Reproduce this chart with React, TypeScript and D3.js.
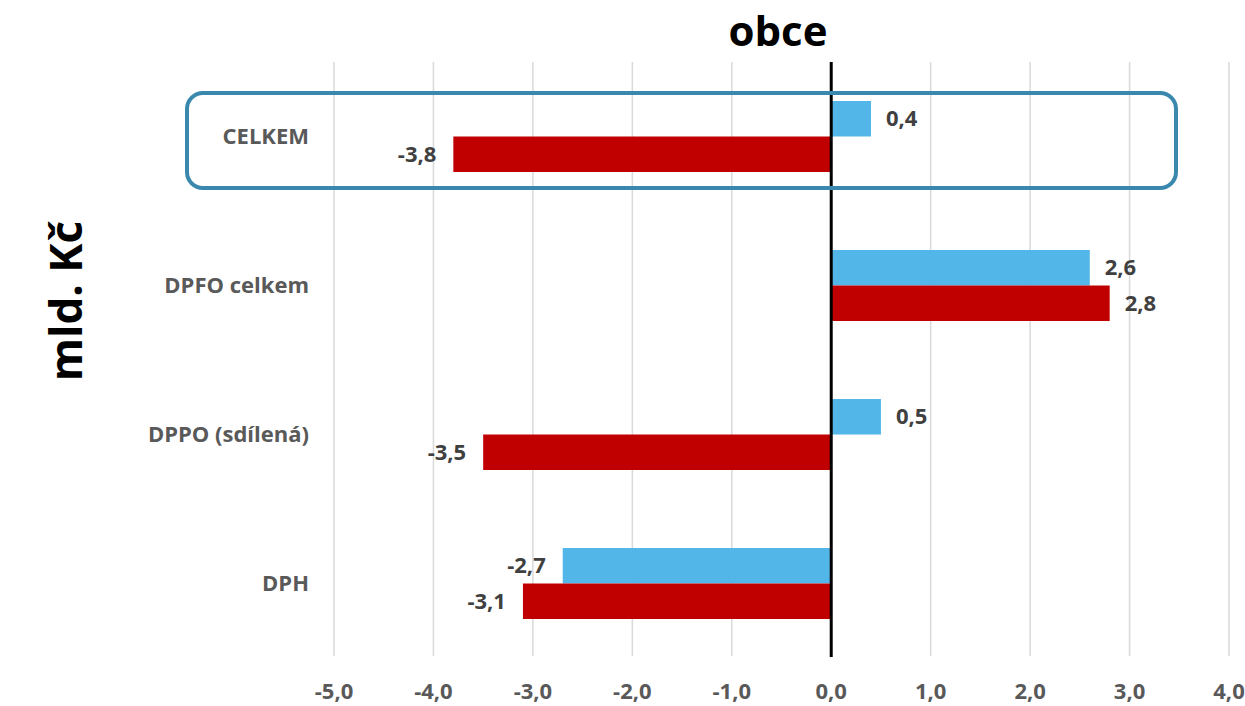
import React from "react";
import * as d3 from "d3";

const categories = ["CELKEM", "DPFO celkem", "DPPO (sdílená)", "DPH"];
const seriesBlue = [0.4, 2.6, 0.5, -2.7];
const seriesRed = [-3.8, 2.8, -3.5, -3.1];
const xTicks = [-5, -4, -3, -2, -1, 0, 1, 2, 3, 4];

const W = 1245;
const H = 706;
const FONT = "'Open Sans', 'Noto Sans', sans-serif";

export default function App() {
  const x = d3.scaleLinear().domain([-5, 4]).range([334, 1229]);
  const y = d3.scaleBand<string>().domain(categories).range([62, 658]).paddingInner(0).paddingOuter(0);
  const barH = 35.5;
  const fmt = (v: number) => d3.format(".1f")(v).replace(".", ",").replace("−", "-");

  return (
    <svg width={W} height={H} style={{ position: "absolute", left: 0, top: 0, background: "#fff" }}>
      {xTicks.map((t) => (
        <line key={"g" + t} x1={x(t)} x2={x(t)} y1={62} y2={656} stroke="#d9d9d9" strokeWidth={1.5} />
      ))}
      {categories.map((c, i) => {
        const cy = (y(c) as number) + y.bandwidth() / 2;
        const b = seriesBlue[i];
        const r = seriesRed[i];
        return (
          <g key={c}>
            <rect x={Math.min(x(0), x(b))} y={cy - barH} width={Math.abs(x(b) - x(0))} height={barH} fill="#52b7e8" />
            <rect x={Math.min(x(0), x(r))} y={cy} width={Math.abs(x(r) - x(0))} height={barH} fill="#c00000" />
            <text
              x={b >= 0 ? x(b) + 15 : x(b) - 17}
              y={cy - barH / 2}
              dy="0.35em"
              textAnchor={b >= 0 ? "start" : "end"}
              fontFamily={FONT}
              fontWeight="bold"
              fontSize={22}
              fill="#404040"
            >
              {fmt(b)}
            </text>
            <text
              x={r >= 0 ? x(r) + 15 : x(r) - 17}
              y={cy + barH / 2}
              dy="0.35em"
              textAnchor={r >= 0 ? "start" : "end"}
              fontFamily={FONT}
              fontWeight="bold"
              fontSize={22}
              fill="#404040"
            >
              {fmt(r)}
            </text>
            <text
              x={309}
              y={cy}
              dy="0.35em"
              textAnchor="end"
              fontFamily={FONT}
              fontWeight="bold"
              fontSize={22}
              fill="#595959"
            >
              {c}
            </text>
          </g>
        );
      })}
      <line x1={x(0)} x2={x(0)} y1={62} y2={657} stroke="#000" strokeWidth={3} />
      {xTicks.map((t) => (
        <text
          key={"t" + t}
          x={x(t)}
          y={699}
          textAnchor="middle"
          fontFamily={FONT}
          fontWeight="bold"
          fontSize={22}
          fill="#595959"
        >
          {fmt(t)}
        </text>
      ))}
      <rect x={187} y={93} width={989} height={95} rx={16} ry={16} fill="none" stroke="#3a88ae" strokeWidth={4} />
      <text x={778} y={46} textAnchor="middle" fontFamily={FONT} fontWeight="bold" fontSize={42} fill="#000">
        obce
      </text>
      <text
        transform="translate(82,301) rotate(-90)"
        textAnchor="middle"
        fontFamily={FONT}
        fontWeight="bold"
        fontSize={44}
        fill="#000"
      >
        mld. Kč
      </text>
    </svg>
  );
}
